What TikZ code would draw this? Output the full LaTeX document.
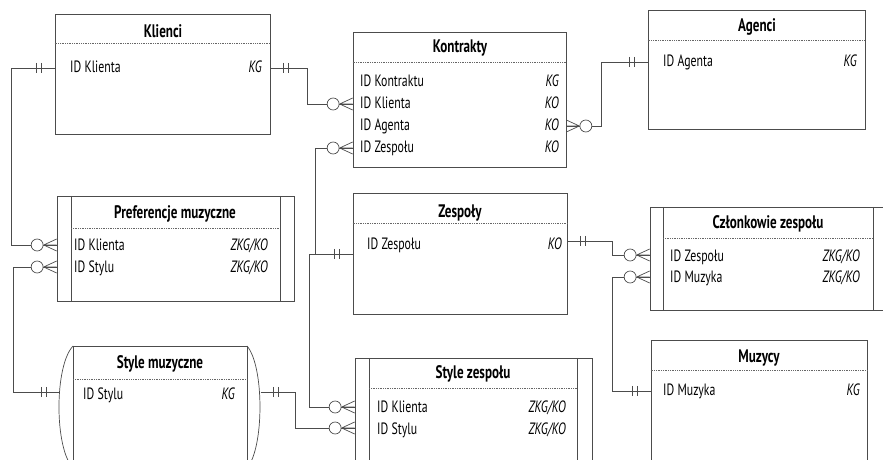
\documentclass[tikz,border=0pt]{standalone}
\usepackage{fontspec}
\setmainfont{PT Sans}[FakeStretch=0.72]
\usetikzlibrary{fit,calc,positioning}

\tikzset{
  linia/.style={line width=0.6pt, draw=black!70},
  encja/.style={linia, rectangle, inner sep=0pt},
  tytul/.style={font=\bfseries\fontsize{15.5}{17}\selectfont, inner sep=0pt, anchor=base},
  pole/.style={font=\fontsize{14}{16}\selectfont, inner sep=0pt, anchor=base west},
  klucz/.style={font=\itshape\fontsize{14}{16}\selectfont, inner sep=0pt, anchor=base east},
  kropki/.style={densely dotted, line width=0.5pt, draw=black!60},
  jeden/.pic={\draw[linia] (-18,-5) -- (-18,5) (-13,-5) -- (-13,5);},
  wiele/.pic={\draw[linia] (-13,0) -- (0,-6) (-13,0) -- (0,0) (-13,0) -- (0,6);
              \draw[linia, fill=white] (-19.5,0) circle[radius=6];},
}

\begin{document}
\begin{tikzpicture}[x=0.03cm, y=-0.03cm]
\useasboundingbox (0,0) rectangle (883,460);
\clip (0,0) rectangle (883,460);

% Klienci
\node[encja, fit={(55,14) (270,134)}] (klienci) {};
\node[tytul] (klienci-t) at (163,38) {Klienci};
\draw[kropki] (klienci.west |- 0,43) -- (klienci.east |- 0,43);
\node[pole] (klienci-1) at (70,73) {ID Klienta};
\node[klucz] (klienci-k1) at (262,73) {KG};

% Kontrakty
\node[encja, fit={(353,32) (566,167)}] (kontrakty) {};
\node[tytul] (kontrakty-t) at (460,53) {Kontrakty};
\draw[kropki] (kontrakty.west |- 0,62) -- (kontrakty.east |- 0,62);
\foreach \y/\pole/\klucz [count=\i] in {87/ID Kontraktu/KG, 109/ID Klienta/KO, 131/ID Agenta/KO, 153/ID Zespołu/KO} {
  \node[pole] (kontrakty-\i) at (360,\y) {\pole};
  \node[klucz] (kontrakty-k\i) at (559,\y) {\klucz};
}

% Agenci
\node[encja, fit={(648,10) (865,129)}] (agenci) {};
\node[tytul] (agenci-t) at (757,32) {Agenci};
\draw[kropki] (agenci.west |- 0,40) -- (agenci.east |- 0,40);
\node[pole] (agenci-1) at (663,67) {ID Agenta};
\node[klucz] (agenci-k1) at (857,67) {KG};

% Preferencje muzyczne (encja asocjacyjna)
\node[encja, fit={(57,196) (294,301)}] (preferencje) {};
\draw[linia] (71,196) -- (71,301) (280,196) -- (280,301);
\node[tytul] (preferencje-t) at (175,219) {Preferencje muzyczne};
\draw[kropki] (71,228) -- (280,228);
\node[pole] (preferencje-1) at (74,251) {ID Klienta};
\node[klucz] (preferencje-k1) at (268,251) {ZKG/KO};
\node[pole] (preferencje-2) at (74,273) {ID Stylu};
\node[klucz] (preferencje-k2) at (268,273) {ZKG/KO};

% Zespoly
\node[encja, fit={(353,193) (567,314)}] (zespoly) {};
\node[tytul] (zespoly-t) at (460,218) {Zespoły};
\draw[kropki] (zespoly.west |- 0,223) -- (zespoly.east |- 0,223);
\node[pole] (zespoly-1) at (367,250) {ID Zespołu};
\node[klucz] (zespoly-k1) at (562,250) {KO};

% Czlonkowie zespolu
\node[encja, fit={(650,207) (895,310)}] (czlonkowie) {};
\draw[linia] (663,207) -- (663,310) (873,207) -- (873,310);
\node[tytul] (czlonkowie-t) at (768,229) {Członkowie zespołu};
\draw[kropki] (663,238) -- (873,238);
\node[pole] (czlonkowie-1) at (670,262) {ID Zespołu};
\node[klucz] (czlonkowie-k1) at (860,262) {ZKG/KO};
\node[pole] (czlonkowie-2) at (670,283) {ID Muzyka};
\node[klucz] (czlonkowie-k2) at (860,283) {ZKG/KO};

% Style muzyczne
\draw[linia] (73,346) -- (247,346) (73,346) -- (73,480) (247,346) -- (247,480);
\draw[linia] (73,346) .. controls (54.3,366) and (54.3,448) .. (73,468);
\draw[linia] (247,346) .. controls (264.3,366) and (264.3,448) .. (247,468);
\node[tytul] (stylem-t) at (160,369) {Style muzyczne};
\draw[kropki] (73,379) -- (247,379);
\node[pole] (stylem-1) at (83,400) {ID Stylu};
\node[klucz] (stylem-k1) at (235,400) {KG};

% Style zespolu
\node[encja, fit={(355,358) (592,480)}] (stylez) {};
\draw[linia] (369,358) -- (369,480) (577,358) -- (577,480);
\node[tytul] (stylez-t) at (473,379) {Style zespołu};
\draw[kropki] (369,388) -- (577,388);
\node[pole] (stylez-1) at (377,413) {ID Klienta};
\node[klucz] (stylez-k1) at (566,413) {ZKG/KO};
\node[pole] (stylez-2) at (377,435) {ID Stylu};
\node[klucz] (stylez-k2) at (566,435) {ZKG/KO};

% Muzycy
\node[encja, fit={(651,340) (867,480)}] (muzycy) {};
\node[tytul] (muzycy-t) at (759,363) {Muzycy};
\draw[kropki] (muzycy.west |- 0,370) -- (muzycy.east |- 0,370);
\node[pole] (muzycy-1) at (663,396) {ID Muzyka};
\node[klucz] (muzycy-k1) at (860,396) {KG};

% punkty zaczepienia
\coordinate (kl-l) at (klienci.west |- 0,68);
\coordinate (kl-p) at (klienci.east |- 0,68);
\coordinate (ko-kl) at (kontrakty.west |- 0,104);
\coordinate (ko-ag) at (kontrakty.east |- 0,126);
\coordinate (ko-ze) at (kontrakty.west |- 0,148);
\coordinate (ag-l) at (agenci.west |- 0,62);
\coordinate (pr-kl) at (preferencje.west |- 0,245);
\coordinate (pr-st) at (preferencje.west |- 0,267);
\coordinate (ze-l) at (zespoly.west |- 0,254);
\coordinate (ze-p) at (zespoly.east |- 0,241);
\coordinate (cz-ze) at (czlonkowie.west |- 0,255);
\coordinate (cz-mu) at (czlonkowie.west |- 0,277);
\coordinate (sz-kl) at (stylez.west |- 0,407);
\coordinate (sz-st) at (stylez.west |- 0,428);
\coordinate (mu-l) at (muzycy.west |- 0,391);
\coordinate (sm-l) at (59.5,392);
\coordinate (sm-p) at (260.5,392);

% polaczenia
\draw[linia] (kl-l) -- ++(-43,0) |- (pr-kl);
\draw[linia] (kl-p) -- ++(37,0) |- (ko-kl);
\draw[linia] (ag-l) -- ++(-46,0) |- (ko-ag);
\draw[linia] (ko-ze) -- ++(-37,0) |- (ze-l);
\draw[linia] (ze-l) -- ++(-43,0) |- (sz-kl);
\draw[linia] (ze-p) -- ++(45,0) |- (cz-ze);
\draw[linia] (mu-l) -- ++(-38,0) |- (cz-mu);
\draw[linia] (sm-l) -- ++(-46.5,0) |- (pr-st);
\draw[linia] (sm-p) -- ++(34.5,0) |- (sz-st);

% krotnosci
\foreach \p in {kl-l, ag-l, ze-l, mu-l, sm-l} \pic at (\p) {jeden};
\foreach \p in {kl-p, ze-p, sm-p} \pic[xscale=-1] at (\p) {jeden};
\foreach \p in {ko-kl, ko-ze, pr-kl, pr-st, cz-ze, cz-mu, sz-kl, sz-st} \pic at (\p) {wiele};
\pic[xscale=-1] at (ko-ag) {wiele};
\end{tikzpicture}
\end{document}
